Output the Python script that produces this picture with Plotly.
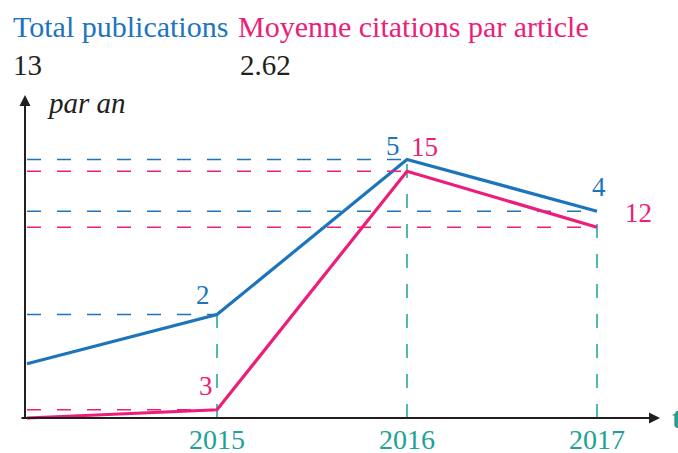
import plotly.graph_objects as go

years = [2014, 2015, 2016, 2017]
publications = [1.05, 2, 5, 4]
citations_pos = [0, 0.5, 15, 11.6]
pub_labels = ["", "2", "5", "4"]
cit_labels = ["", "3", "15", "12"]
tick_years = [2015, 2016, 2017]
tick_text = ["2015", "2016", "2017"]
header_titles = ["Total publications", "Moyenne citations par article"]
header_values = ["13", "2.62"]

BLUE = "#1c75bc"
PINK = "#ec1e79"
TEAL = "#1aa396"
DARK = "#231f20"
FONT = "Liberation Serif, Times New Roman, serif"

PX_YEAR = 190.0
PX_BLUE = 51.7
PX_PINK = 16.45
L, R, T, B = 22, 13, 95, 29
W, H = 678, 453
plot_w = W - L - R
plot_h = H - T - B
xmin = 2014 - 5 / PX_YEAR
xmax = xmin + plot_w / PX_YEAR
below = 6
y1min = -below / PX_BLUE
y1max = y1min + plot_h / PX_BLUE
y2min = -below / PX_PINK
y2max = y2min + plot_h / PX_PINK

fig = go.Figure()
dash = "14px,16px"
start = years[0]
for yr, v in zip(years[1:], publications[1:]):
    fig.add_trace(go.Scatter(x=[start, yr], y=[v, v], mode="lines",
                             line=dict(color=BLUE, width=1.5, dash=dash),
                             hoverinfo="skip", showlegend=False))
    fig.add_trace(go.Scatter(x=[yr, yr], y=[0, v], mode="lines",
                             line=dict(color=TEAL, width=1.5, dash=dash),
                             hoverinfo="skip", showlegend=False))
for yr, v in zip(years[1:], citations_pos[1:]):
    fig.add_trace(go.Scatter(x=[start, yr], y=[v, v], mode="lines", yaxis="y2",
                             line=dict(color=PINK, width=1.5, dash=dash),
                             hoverinfo="skip", showlegend=False))

fig.add_trace(go.Scatter(x=years, y=publications, mode="lines",
                         line=dict(color=BLUE, width=3.2), showlegend=False))
fig.add_trace(go.Scatter(x=years, y=citations_pos, mode="lines", yaxis="y2",
                         line=dict(color=PINK, width=3.2), showlegend=False))


def px_x(p):
    return (p - L) / plot_w


def px_y(p):
    return (H - B - p) / plot_h


def txt(text, x, y, size, color, xanchor="left"):
    return dict(x=px_x(x), y=px_y(y), xref="paper", yref="paper", xanchor=xanchor,
                yanchor="middle", text=text, showarrow=False,
                font=dict(family=FONT, size=size, color=color))


ann = []
pub_off = {2015: (-14, 20), 2016: (-14, 14), 2017: (2, 24)}
cit_off = {2015: (-11, 24), 2016: (17, 24), 2017: (41, 14)}
for yr, v, lab in zip(years, publications, pub_labels):
    if lab:
        dx, dy = pub_off[yr]
        ann.append(dict(x=yr, y=v, xref="x", yref="y", text=lab, showarrow=False,
                        xshift=dx, yshift=dy, font=dict(family=FONT, size=27, color=BLUE)))
for yr, v, lab in zip(years, citations_pos, cit_labels):
    if lab:
        dx, dy = cit_off[yr]
        ann.append(dict(x=yr, y=v, xref="x", yref="y2", text=lab, showarrow=False,
                        xshift=dx, yshift=dy, font=dict(family=FONT, size=27, color=PINK)))
for yr, t in zip(tick_years, tick_text):
    ann.append(dict(x=yr, y=0, xref="x", yref="y", text=t, showarrow=False,
                    yshift=-21, font=dict(family=FONT, size=28, color=TEAL)))

ann.append(txt(header_titles[0], 11, 26, 30, BLUE))
ann.append(txt(header_titles[1], 236, 26, 30, PINK))
ann.append(txt(header_values[0], 11, 65, 29, DARK))
ann.append(txt(header_values[1], 238, 65, 29, DARK))
ann.append(txt("<i>par an</i>", 45, 103, 29, DARK))
ann.append(txt("<b>t</b>", 670, 418, 29, TEAL))

x_axis_pos = 2014 - 2 / PX_YEAR
ann.append(dict(x=2017 + 63 / PX_YEAR, y=0, xref="x", yref="y", ax=-640, ay=0,
                axref="pixel", ayref="pixel", text="", showarrow=True,
                arrowhead=2, arrowsize=1.1, arrowwidth=2, arrowcolor=DARK))
ann.append(dict(x=x_axis_pos, y=px_y(95), xref="x", yref="paper", ax=0, ay=325,
                text="", showarrow=True,
                arrowhead=2, arrowsize=1.1, arrowwidth=2, arrowcolor=DARK))

fig.update_layout(
    width=W, height=H,
    margin=dict(l=L, r=R, t=T, b=B, autoexpand=False),
    paper_bgcolor="white", plot_bgcolor="white",
    font=dict(family=FONT),
    xaxis=dict(range=[xmin, xmax], visible=False, automargin=False),
    yaxis=dict(range=[y1min, y1max], visible=False, automargin=False),
    yaxis2=dict(range=[y2min, y2max], visible=False, overlaying="y", automargin=False),
    annotations=ann,
)

fig.write_html("out.html", config={"displayModeBar": False},
               post_script="document.body.style.margin='0';")
